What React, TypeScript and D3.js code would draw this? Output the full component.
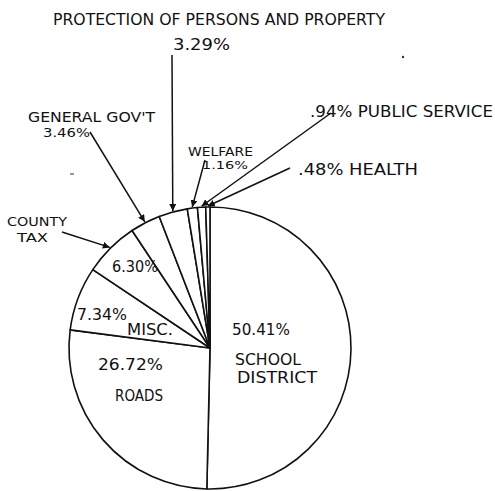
import React from "react";
import * as d3 from "d3";

const categories = [
  "School District",
  "Roads",
  "Misc.",
  "County Tax",
  "General Gov't",
  "Protection of Persons and Property",
  "Welfare",
  "Public Service",
  "Health",
];
const values = [50.41, 26.72, 7.34, 6.3, 3.46, 3.29, 1.16, 0.94, 0.48];
const percentLabels = ["50.41%", "26.72%", "7.34%", "6.30%", "3.46%", "3.29%", "1.16%", ".94%", ".48%"];

const W = 495;
const H = 491;
const CX = 210;
const CY = 348;
const R = 141;
const FONT = "'DejaVu Sans', sans-serif";

type T = { s: string; x: number; y: number; w: number; fs?: number };

const App = () => {
  const pie = d3
    .pie<number>()
    .sort(null)
    .value((d) => d)
    .startAngle(0)
    .endAngle(2 * Math.PI);
  const arcs = pie(values);
  const arcGen = d3.arc<d3.PieArcDatum<number>>().innerRadius(0).outerRadius(R);

  const pt = (a: number, r: number) => [CX + r * Math.sin(a), CY - r * Math.cos(a)];

  const inside: T[] = [
    { s: percentLabels[0], x: 232, y: 335, w: 58 },
    { s: "SCHOOL", x: 235, y: 365, w: 66 },
    { s: "DISTRICT", x: 237, y: 383, w: 80 },
    { s: percentLabels[1], x: 98, y: 370, w: 65 },
    { s: "ROADS", x: 115, y: 401, w: 48 },
    { s: percentLabels[2], x: 77, y: 320, w: 50 },
    { s: "MISC.", x: 127, y: 335, w: 46 },
    { s: percentLabels[3], x: 112, y: 272, w: 46 },
  ];

  const outside: T[] = [
    { s: "PROTECTION OF PERSONS AND PROPERTY", x: 53, y: 25, w: 332 },
    { s: percentLabels[5], x: 173, y: 50, w: 57 },
    { s: "GENERAL GOV'T", x: 28, y: 122, w: 127, fs: 14 },
    { s: percentLabels[4], x: 43, y: 137, w: 47, fs: 12 },
    { s: "WELFARE", x: 188, y: 156, w: 65, fs: 12 },
    { s: percentLabels[6], x: 202, y: 169, w: 46, fs: 10 },
    { s: percentLabels[7] + " PUBLIC SERVICE", x: 310, y: 117, w: 183 },
    { s: percentLabels[8] + " HEALTH", x: 298, y: 175, w: 120 },
    { s: "COUNTY", x: 7, y: 226, w: 60, fs: 13 },
    { s: "TAX", x: 17, y: 242, w: 31, fs: 13 },
  ];

  const leaders: { i: number; from: [number, number] }[] = [
    { i: 3, from: [62, 232] },
    { i: 4, from: [90, 132] },
    { i: 5, from: [172, 55] },
    { i: 6, from: [205, 160] },
    { i: 7, from: [331, 113] },
    { i: 8, from: [290, 168] },
  ];

  return (
    <svg
      width={W}
      height={H}
      style={{ position: "fixed", left: 0, top: 0, background: "#fff" }}
    >
      <defs>
        <marker
          id="ah"
          viewBox="0 0 10 10"
          refX="10"
          refY="5"
          markerWidth="7"
          markerHeight="7"
          markerUnits="userSpaceOnUse"
          orient="auto"
        >
          <path d="M0,0 L10,5 L0,10 z" fill="#111" />
        </marker>
      </defs>
      <g transform={`translate(${CX},${CY})`}>
        {arcs.map((a, i) => (
          <path
            key={categories[i]}
            d={arcGen(a) || ""}
            fill="#fff"
            stroke="#111"
            strokeWidth={1.6}
            strokeLinejoin="round"
          />
        ))}
      </g>
      {leaders.map(({ i, from }) => {
        const a = arcs[i];
        const mid = (a.startAngle + a.endAngle) / 2;
        const [tx, ty] = pt(mid, R + 1);
        return (
          <line
            key={"l" + i}
            x1={from[0]}
            y1={from[1]}
            x2={tx}
            y2={ty}
            stroke="#111"
            strokeWidth={1.5}
            markerEnd="url(#ah)"
          />
        );
      })}
      {[...inside, ...outside].map((t, k) => (
        <text
          key={"t" + k}
          x={t.x}
          y={t.y}
          textLength={t.w}
          lengthAdjust="spacingAndGlyphs"
          fontFamily={FONT}
          fontSize={t.fs || 15}
          fill="#111"
        >
          {t.s}
        </text>
      ))}
      <circle cx={403} cy={57} r={1.2} fill="#333" />
      <line x1={70} y1={174} x2={74} y2={174} stroke="#555" strokeWidth={1.2} />
    </svg>
  );
};

export default App;
